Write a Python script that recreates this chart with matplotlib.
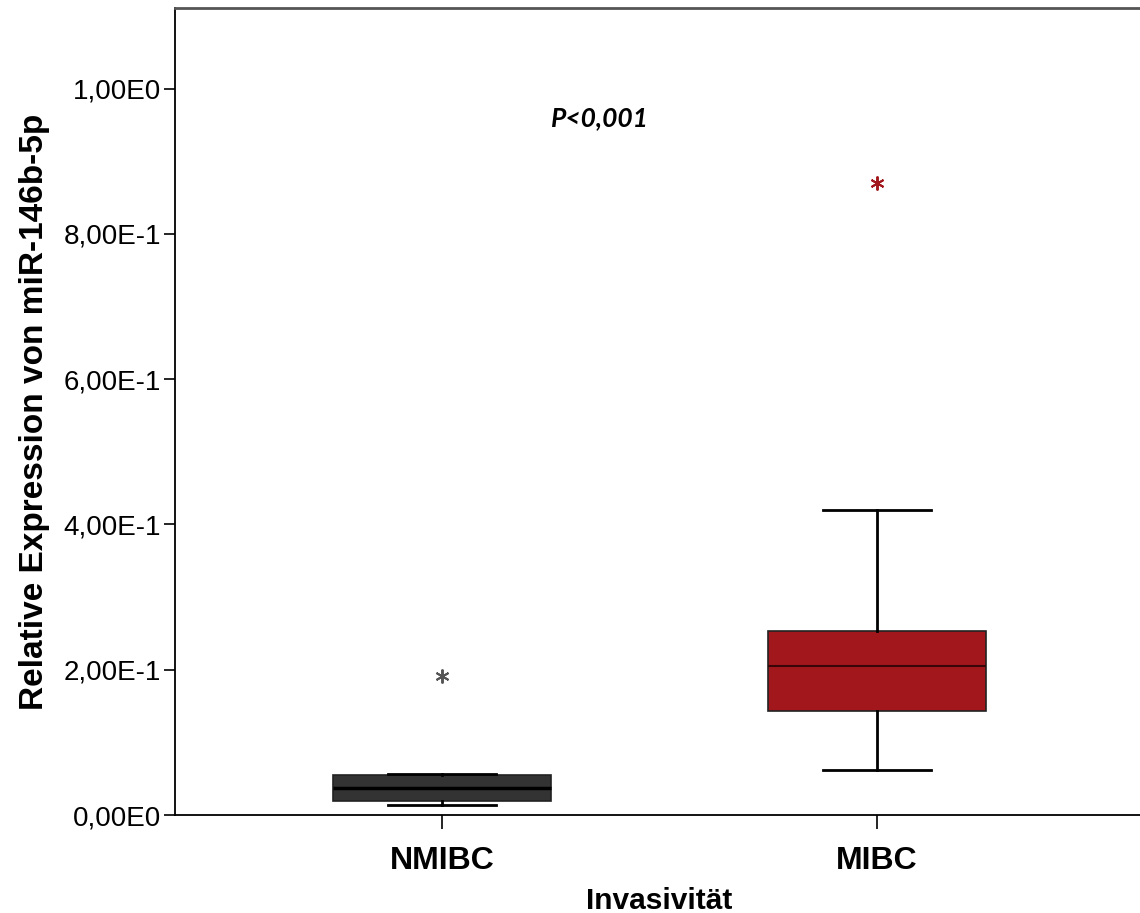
import numpy as np
import matplotlib
matplotlib.use('Agg')
import matplotlib.pyplot as plt

# values (relative expression)
groups = ['NMIBC', 'MIBC']
q1 = [0.019, 0.143]
median = [0.037, 0.205]
q3 = [0.055, 0.253]
whis_lo = [0.014, 0.062]
whis_hi = [0.0565, 0.420]
outliers = [[0.191], [0.870]]
box_colors = ['#333333', '#a2171c']
flier_colors = ['#555555', '#a2171c']
yticks = [0.0, 0.2, 0.4, 0.6, 0.8, 1.0]
ytick_labels = ['0,00E0', '2,00E-1', '4,00E-1', '6,00E-1', '8,00E-1', '1,00E0']

plt.rcParams['font.family'] = ['Liberation Sans', 'DejaVu Sans']

fig = plt.figure(figsize=(11.4, 9.13), dpi=100)
ax = fig.add_axes([175/1140., 98/913., 969/1140., 807/913.])

pos = np.arange(len(groups))
stats = [dict(med=median[i], q1=q1[i], q3=q3[i], whislo=whis_lo[i],
              whishi=whis_hi[i], fliers=[], label=groups[i])
         for i in range(len(groups))]
bp = ax.bxp(stats, positions=pos, widths=0.503, patch_artist=True,
            showfliers=False, capwidths=0.25,
            medianprops=dict(color='black', lw=1.5),
            whiskerprops=dict(color='black', lw=2),
            capprops=dict(color='black', lw=2),
            boxprops=dict(lw=1.2))
for patch, c in zip(bp['boxes'], box_colors):
    patch.set_facecolor(c)
    patch.set_edgecolor('#222222')
bp['medians'][0].set_linewidth(2.5)
bp['medians'][1].set_color('#3a0506')

for i in range(len(groups)):
    ax.plot([pos[i]]*len(outliers[i]), outliers[i], ls='none',
            marker=(6, 2, 0), ms=10, mew=1.4, color=flier_colors[i])

ax.set_xlim(-0.614, 1.614)
ax.set_ylim(0, 1.111)
ax.set_yticks(yticks)
ax.set_yticklabels(ytick_labels, fontsize=20)
ax.set_xticks(pos)
ax.set_xticklabels(groups, fontsize=23, fontweight='bold')
ax.tick_params(axis='y', direction='out', length=8, width=1.2, pad=2)
ax.tick_params(axis='x', direction='out', length=10, width=1.2, pad=12)

for s in ['left', 'bottom']:
    ax.spines[s].set_linewidth(1.3)
ax.spines['top'].set_color('#555555')
ax.spines['top'].set_linewidth(2)

ax.set_xlabel('Invasivität', fontsize=21.5, fontweight='bold', labelpad=8)
ax.set_ylabel('Relative Expression von miR-146b-5p', fontsize=24,
              fontweight='bold', labelpad=10)

ax.text(0.363, 0.959, 'P<0,001', fontsize=19, fontweight='bold',
        style='italic', family=['Lato', 'DejaVu Sans'], ha='center', va='center')

fig.savefig('out.png', dpi=100)
